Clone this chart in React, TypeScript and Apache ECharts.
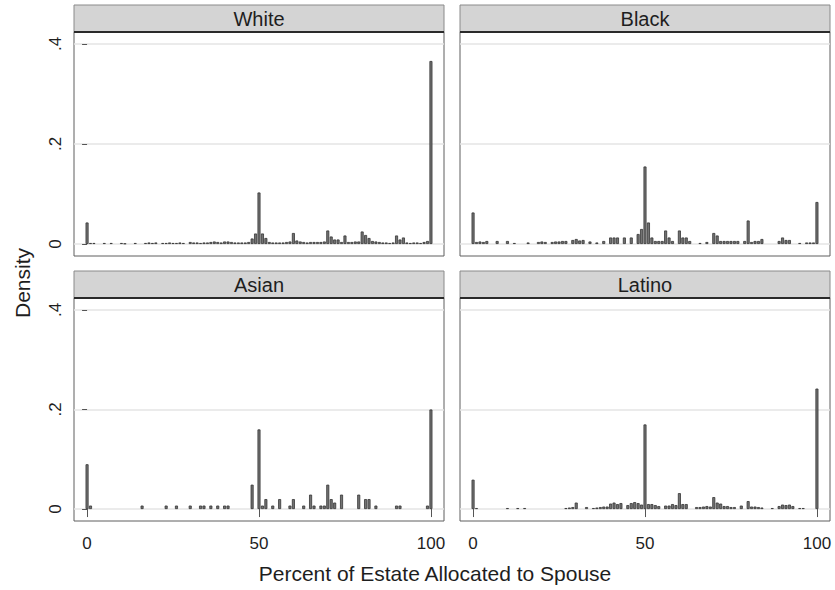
import React, { useEffect, useRef } from "react";
import * as echarts from "echarts";

const groupNames = ["White", "Black", "Asian", "Latino"];
const xTickValues = [0, 50, 100];
const yTickValues = [0, 0.2, 0.4];
const xTitle = "Percent of Estate Allocated to Spouse";
const yTitle = "Density";

const whiteBins = [
  [0, 0.043], [1, 0.002], [2, 0.002], [5, 0.002], [7, 0.002], [10, 0.002], [11, 0.001], [14, 0.002],
  [17, 0.002], [18, 0.003], [19, 0.002], [20, 0.003], [22, 0.002], [23, 0.002], [24, 0.003], [25, 0.002],
  [26, 0.002], [27, 0.003], [28, 0.002], [30, 0.004], [31, 0.003], [32, 0.003], [33, 0.002], [34, 0.003],
  [35, 0.003], [36, 0.004], [37, 0.005], [38, 0.004], [39, 0.003], [40, 0.005], [41, 0.005], [42, 0.004],
  [43, 0.003], [44, 0.003], [45, 0.003], [46, 0.003], [47, 0.004], [48, 0.011], [49, 0.021], [50, 0.103],
  [51, 0.021], [52, 0.012], [53, 0.004], [54, 0.003], [55, 0.003], [56, 0.003], [57, 0.003], [58, 0.004],
  [59, 0.005], [60, 0.022], [61, 0.007], [62, 0.005], [63, 0.004], [64, 0.003], [65, 0.004], [66, 0.004],
  [67, 0.004], [68, 0.004], [69, 0.005], [70, 0.027], [71, 0.015], [72, 0.009], [73, 0.009], [74, 0.004],
  [75, 0.017], [76, 0.004], [77, 0.004], [78, 0.005], [79, 0.005], [80, 0.025], [81, 0.018], [82, 0.012],
  [83, 0.006], [84, 0.005], [85, 0.004], [86, 0.003], [87, 0.003], [88, 0.002], [89, 0.003], [90, 0.017],
  [91, 0.009], [92, 0.013], [93, 0.003], [94, 0.002], [95, 0.003], [96, 0.003], [97, 0.002], [98, 0.004],
  [99, 0.006], [100, 0.366],
];

const blackBins = [
  [0, 0.063], [1, 0.004], [2, 0.005], [3, 0.004], [4, 0.006], [7, 0.006], [10, 0.006], [12, 0.002],
  [16, 0.003], [19, 0.004], [20, 0.005], [21, 0.004], [23, 0.004], [24, 0.005], [25, 0.005], [26, 0.006],
  [27, 0.006], [29, 0.008], [30, 0.01], [31, 0.007], [32, 0.008], [34, 0.005], [36, 0.003], [38, 0.006],
  [40, 0.013], [41, 0.013], [42, 0.013], [44, 0.013], [46, 0.013], [48, 0.02], [49, 0.03], [50, 0.155],
  [51, 0.043], [52, 0.013], [53, 0.006], [54, 0.006], [55, 0.006], [56, 0.027], [57, 0.013], [58, 0.006],
  [60, 0.027], [61, 0.013], [62, 0.013], [63, 0.006], [66, 0.002], [68, 0.004], [70, 0.022], [71, 0.017],
  [72, 0.006], [73, 0.006], [74, 0.006], [75, 0.006], [76, 0.006], [77, 0.006], [79, 0.006], [80, 0.047],
  [81, 0.004], [82, 0.006], [83, 0.006], [84, 0.01], [89, 0.006], [90, 0.013], [91, 0.008], [92, 0.008],
  [95, 0.002], [97, 0.003], [98, 0.003], [99, 0.003], [100, 0.084],
];

const asianBins = [
  [0, 0.09], [1, 0.007], [16, 0.007], [23, 0.007], [26, 0.007], [30, 0.007], [33, 0.007], [34, 0.007],
  [36, 0.007], [38, 0.007], [40, 0.007], [41, 0.007], [48, 0.049], [50, 0.16], [51, 0.007], [52, 0.02],
  [54, 0.007], [56, 0.02], [59, 0.007], [60, 0.02], [63, 0.007], [65, 0.029], [66, 0.007], [68, 0.007],
  [69, 0.007], [70, 0.049], [71, 0.02], [72, 0.013], [74, 0.029], [79, 0.029], [81, 0.02], [82, 0.02],
  [84, 0.007], [90, 0.007], [91, 0.007], [99, 0.007], [100, 0.2],
];

const latinoBins = [
  [0, 0.059], [1, 0.002], [10, 0.002], [13, 0.002], [15, 0.002], [27, 0.002], [28, 0.003], [29, 0.004],
  [30, 0.013], [33, 0.004], [35, 0.002], [36, 0.003], [37, 0.004], [38, 0.005], [39, 0.005], [40, 0.011],
  [41, 0.013], [42, 0.01], [43, 0.012], [45, 0.008], [46, 0.012], [47, 0.014], [48, 0.012], [49, 0.009],
  [50, 0.17], [51, 0.01], [52, 0.01], [53, 0.008], [54, 0.006], [56, 0.007], [57, 0.007], [58, 0.01],
  [59, 0.008], [60, 0.032], [61, 0.01], [62, 0.01], [65, 0.004], [66, 0.004], [67, 0.005], [68, 0.006],
  [69, 0.005], [70, 0.024], [71, 0.013], [72, 0.011], [73, 0.006], [74, 0.006], [75, 0.004], [76, 0.004],
  [78, 0.007], [80, 0.016], [81, 0.005], [82, 0.005], [83, 0.004], [84, 0.003], [87, 0.002], [89, 0.006],
  [90, 0.009], [91, 0.008], [92, 0.009], [93, 0.006], [95, 0.002], [96, 0.002], [100, 0.242],
];

const binsByGroup = [whiteBins, blackBins, asianBins, latinoBins];

const FONT = "'Liberation Sans', Arial, sans-serif";
const TEXT = "#1e1e1e";

export default function App() {
  const ref = useRef<HTMLDivElement>(null);
  useEffect(() => {
    if (!ref.current) return;
    const chart = echarts.init(ref.current, null, { renderer: "svg" });
    const W = 370;
    const layout = [
      { left: 74, top: 32, height: 224, col: 0, row: 0 },
      { left: 460, top: 32, height: 224, col: 1, row: 0 },
      { left: 74, top: 298, height: 223, col: 0, row: 1 },
      { left: 460, top: 298, height: 223, col: 1, row: 1 },
    ];
    const grids: any[] = [];
    const xAxes: any[] = [];
    const yAxes: any[] = [];
    const series: any[] = [];
    const graphics: any[] = [];
    layout.forEach((p, i) => {
      grids.push({
        left: p.left, top: p.top, width: W, height: p.height,
        show: true, borderColor: "#5e5e5e", borderWidth: 1, backgroundColor: "#fff",
      });
      const bottom = p.row === 1;
      const leftCol = p.col === 0;
      xAxes.push({
        type: "value", gridIndex: i, min: -3.8, max: 103.8,
        axisLine: { show: false },
        axisTick: { show: bottom, customValues: xTickValues, length: 8, lineStyle: { color: "#555", width: 1 } },
        axisLabel: {
          show: bottom, customValues: xTickValues, fontSize: 17, color: TEXT, fontFamily: FONT, margin: 14,
        },
        splitLine: { show: false },
      });
      yAxes.push({
        type: "value", gridIndex: i, min: -0.024, max: 0.424,
        axisLine: { show: false },
        axisTick: { show: leftCol, customValues: yTickValues, length: 5, lineStyle: { color: "#555", width: 1 } },
        axisLabel: {
          show: leftCol, customValues: yTickValues, rotate: 90, fontSize: 17, color: TEXT, fontFamily: FONT, margin: 10,
          formatter: (v: number) => (v === 0 ? "0" : String(v).replace(/^0/, "")),
        },
        splitLine: { show: true, lineStyle: { color: "#e4e4e4", width: 1.5 } },
      });
      series.push({
        type: "bar", xAxisIndex: i, yAxisIndex: i, data: binsByGroup[i], barWidth: 3,
        itemStyle: { color: "#737373", borderColor: "#353535", borderWidth: 0.8 },
        silent: true,
      });
      graphics.push({
        type: "rect", shape: { x: p.left, y: p.top - 27, width: W, height: 27 },
        style: { fill: "#d4d4d4", stroke: "#8a8a8a", lineWidth: 1 }, z: 10,
      });
      graphics.push({
        type: "line", shape: { x1: p.left, y1: p.top, x2: p.left + W, y2: p.top },
        style: { stroke: "#2a2a2a", lineWidth: 2 }, z: 11,
      });
      graphics.push({
        type: "text", x: p.left + W / 2, y: p.top - 13.5,
        style: { text: groupNames[i], fontSize: 20, fontFamily: FONT, fill: TEXT, align: "center", verticalAlign: "middle" },
        z: 12,
      });
    });
    graphics.push({
      type: "text", x: 22, y: 283, rotation: Math.PI / 2,
      style: { text: yTitle, fontSize: 21, fontFamily: FONT, fill: TEXT, align: "center", verticalAlign: "middle" },
    });
    graphics.push({
      type: "text", x: 435, y: 573,
      style: { text: xTitle, fontSize: 21, fontFamily: FONT, fill: TEXT, align: "center", verticalAlign: "middle" },
    });
    chart.setOption({
      animation: false,
      backgroundColor: "#fff",
      grid: grids,
      xAxis: xAxes,
      yAxis: yAxes,
      series,
      graphic: graphics,
    });
    return () => chart.dispose();
  }, []);
  return <div ref={ref} style={{ position: "fixed", left: 0, top: 0, width: 835, height: 590 }} />;
}
